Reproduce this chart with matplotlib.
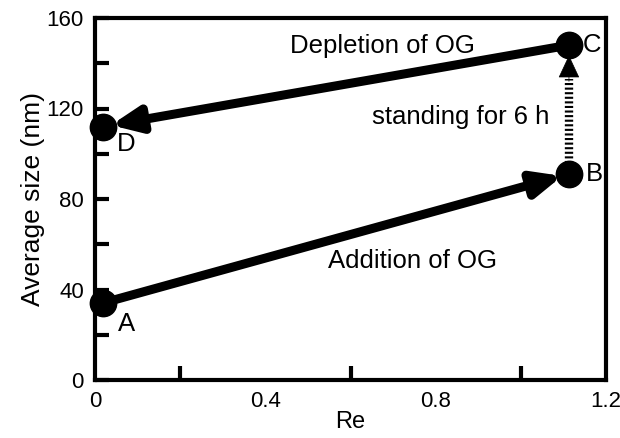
import matplotlib
matplotlib.use("Agg")
import matplotlib.pyplot as plt
from matplotlib.ticker import MultipleLocator, FixedLocator

plt.rcParams['font.family'] = ['Liberation Sans', 'DejaVu Sans']

# Data
point_names = ['A', 'B', 'C', 'D']
re_values = [0.018, 1.113, 1.113, 0.018]
sizes = [34, 91, 148, 112]
x_ticks = [0, 0.4, 0.8, 1.2]
x_tick_labels = ['0', '0.4', '0.8', '1.2']
y_ticks = [0, 40, 80, 120, 160]
y_tick_labels = ['0', '40', '80', '120', '160']

fig = plt.figure(figsize=(6.2, 4.38), dpi=100)
ax = fig.add_axes([95/620, 1-380/438, (606-95)/620, (380-18)/438])
ax.set_xlim(0, 1.2)
ax.set_ylim(0, 160)

for s in ax.spines.values():
    s.set_linewidth(3)

ax.set_xticks(x_ticks)
ax.set_xticklabels(x_tick_labels)
ax.set_yticks(y_ticks)
ax.set_yticklabels(y_tick_labels)
ax.yaxis.set_minor_locator(MultipleLocator(20))
ax.xaxis.set_minor_locator(FixedLocator([0.2, 0.4, 0.6, 0.8, 1.0]))
ax.tick_params(which='both', direction='in', length=10, width=3,
               top=False, right=False, labelsize=16)
ax.tick_params(axis='y', which='both', pad=8)
ax.tick_params(axis='x', which='major', length=0, pad=8)

ax.set_xlabel('Re', fontsize=17, labelpad=-1)
ax.set_ylabel('Average size (nm)', fontsize=19, labelpad=1)

# markers
ax.plot(re_values, sizes, 'o', color='black', markersize=19, zorder=5, clip_on=False)

A, B, C, D = [(re_values[i], sizes[i]) for i in range(4)]

head = '-|>,head_length=1.7,head_width=0.75'
# A -> B
ax.annotate('', xy=B, xytext=A,
            arrowprops=dict(arrowstyle=head, lw=6.5, color='black',
                            shrinkA=0, shrinkB=5),
            zorder=4)
# C -> D
ax.annotate('', xy=D, xytext=C,
            arrowprops=dict(arrowstyle=head, lw=6.5, color='black',
                            shrinkA=0, shrinkB=6),
            zorder=4)
# B -> C dotted
ax.plot([B[0], B[0]], [B[1] + 5, 133], color='black', lw=6,
        linestyle=(0, (0.25, 0.3)), zorder=3, dash_capstyle='butt')
ax.annotate('', xy=(C[0], 143.5), xytext=(C[0], 132),
            arrowprops=dict(arrowstyle='-|>,head_length=1.5,head_width=0.7',
                            lw=0.5, color='black', shrinkA=0, shrinkB=0),
            zorder=4)

# texts
fs = 18.5
ax.text(0.674, 144.7, 'Depletion of OG', fontsize=fs, ha='center', va='baseline')
ax.text(1.068, 113, 'standing for 6 h', fontsize=fs, ha='right', va='baseline')
ax.text(0.746, 49.7, 'Addition of OG', fontsize=fs, ha='center', va='baseline')
label_pos = [(0.073, 21.6), (1.174, 88), (1.167, 145), (0.073, 101.4)]
for name, (lx, ly) in zip(point_names, label_pos):
    ax.text(lx, ly, name, fontsize=fs, ha='center', va='baseline')

fig.savefig('out.png', dpi=100)
